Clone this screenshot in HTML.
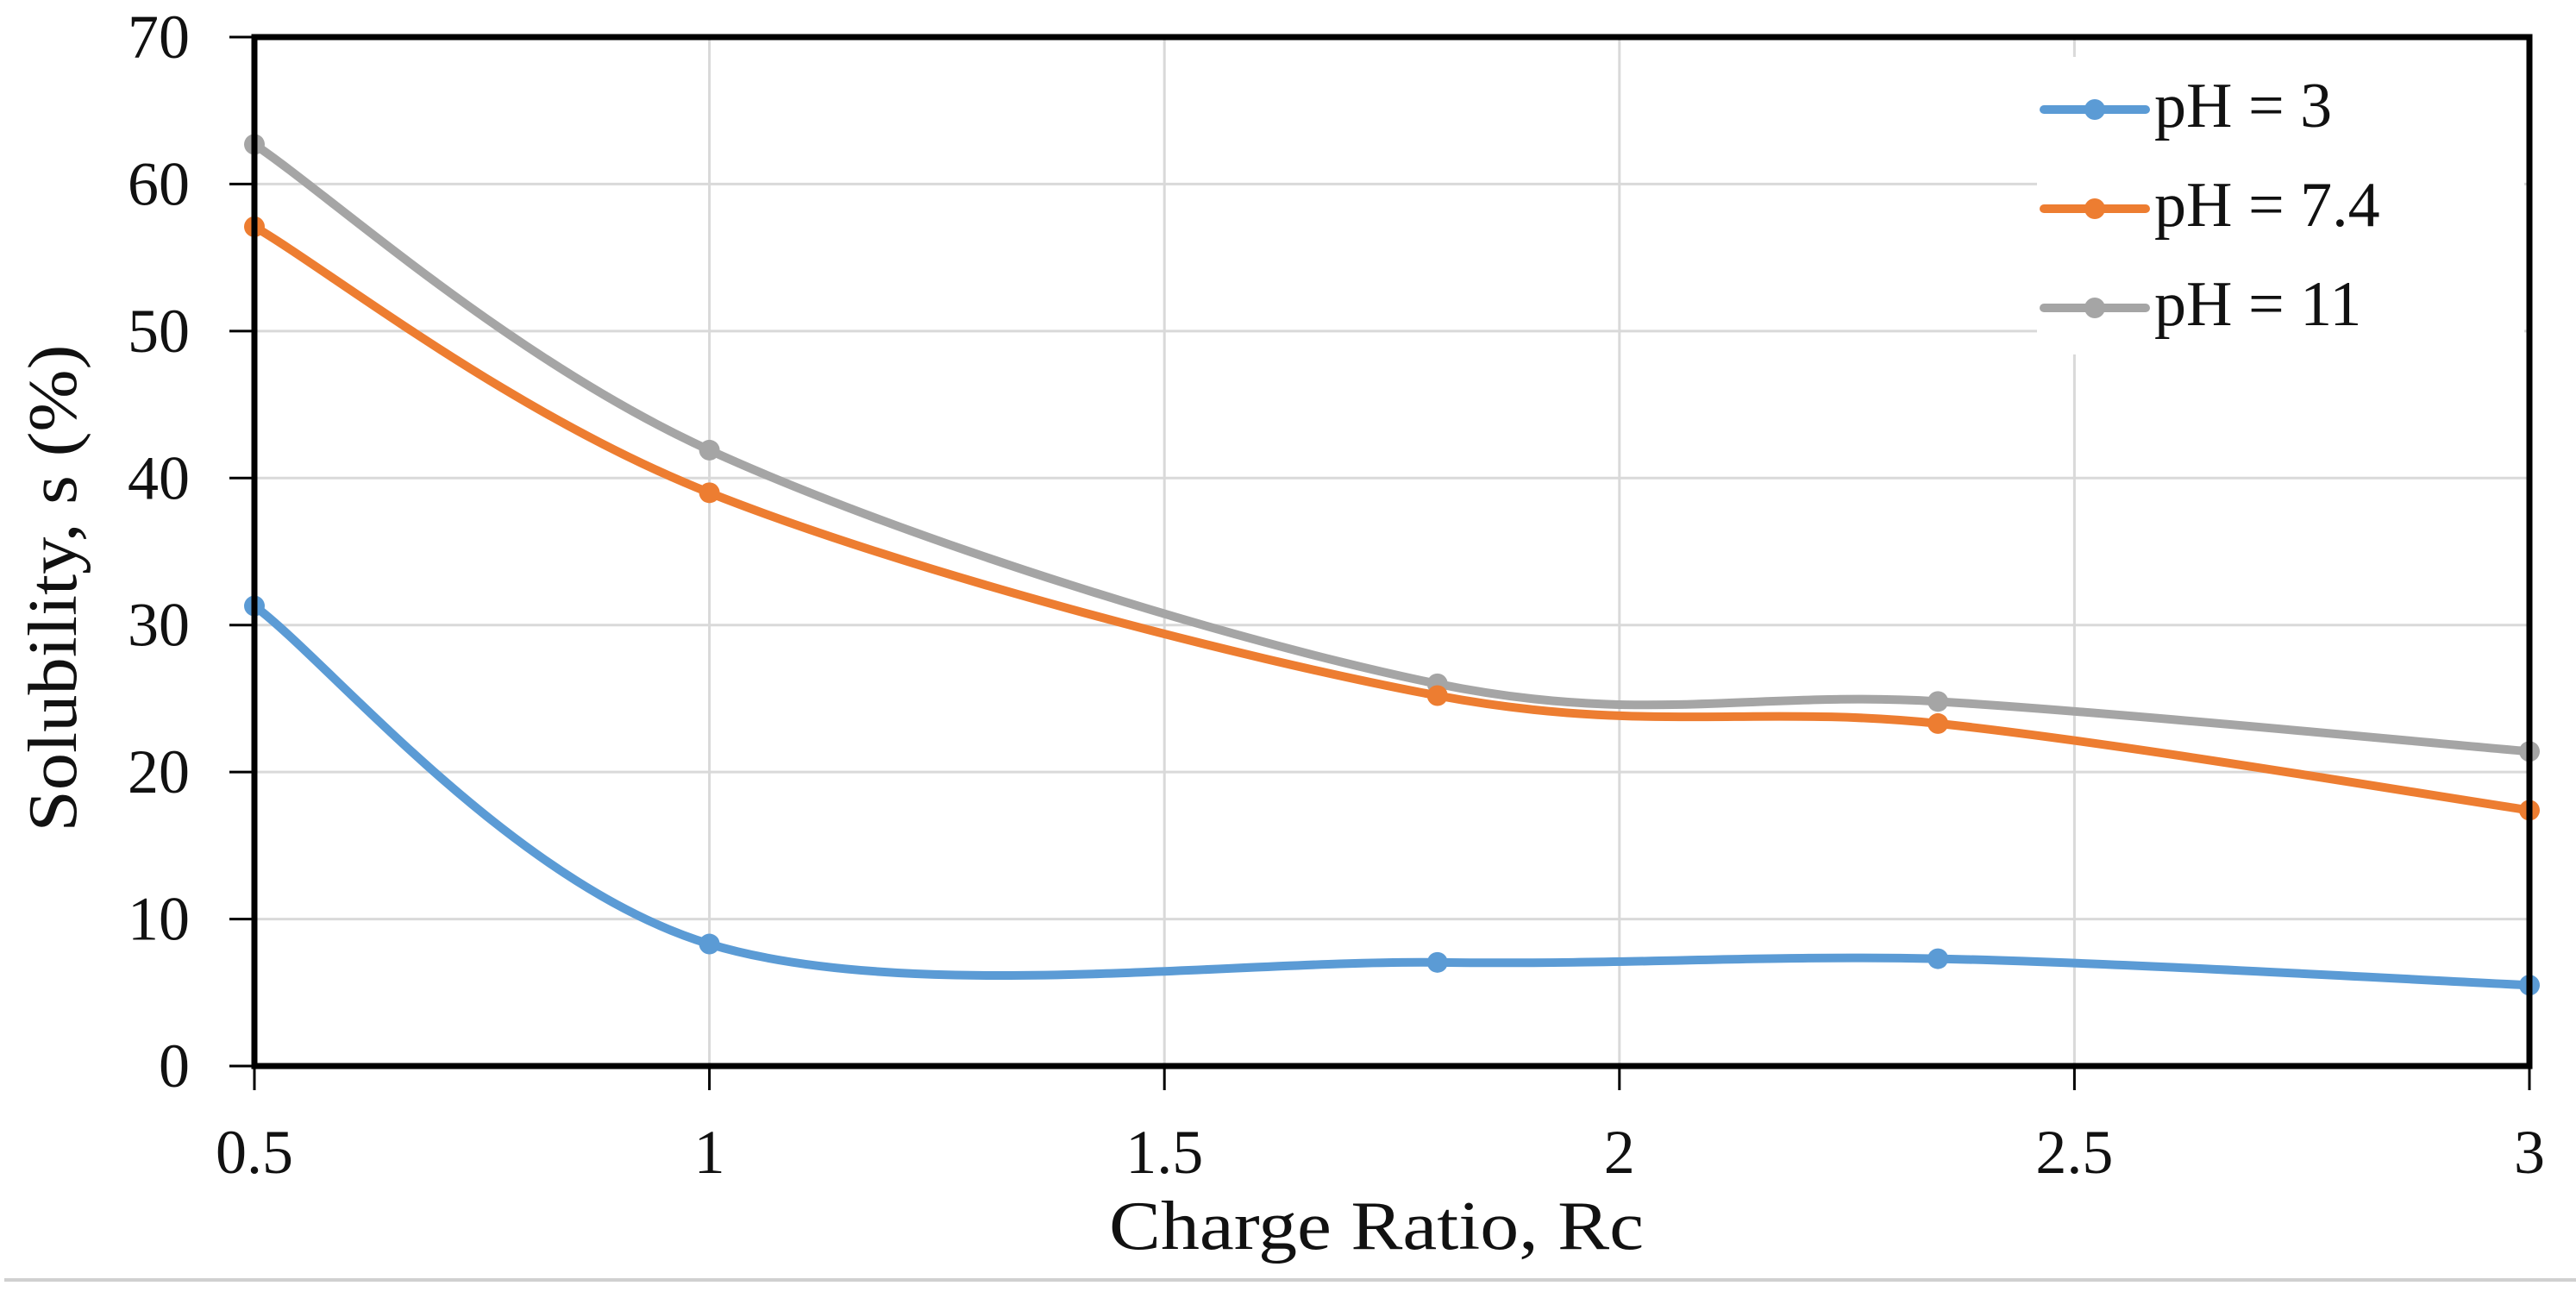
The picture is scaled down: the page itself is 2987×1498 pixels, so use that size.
<!DOCTYPE html>
<html><head><meta charset="utf-8"><style>
html,body{margin:0;padding:0;background:#fff;}
svg{display:block;font-family:"Liberation Serif",serif;}
</style></head><body>
<svg id="chart" width="2987" height="1498" viewBox="0 0 2987 1498" xmlns="http://www.w3.org/2000/svg">
<rect x="0" y="0" width="2987" height="1498" fill="#fff"/>
<g id="grid"></g>
<rect x="2362" y="66" width="565" height="345" fill="#fff"/>
<g id="series"></g>
<g id="axes"></g>
<g id="legend"></g>
<text x="1596" y="1448" font-size="80" text-anchor="middle" textLength="620" lengthAdjust="spacingAndGlyphs" fill="#111">Charge Ratio, Rc</text>
<text transform="translate(88,682) rotate(-90)" font-size="80" text-anchor="middle" textLength="565" lengthAdjust="spacingAndGlyphs" fill="#111">Solubility, s (%)</text>
<line x1="5" y1="1484" x2="2987" y2="1484" stroke="#d0d0d0" stroke-width="4"/>
</svg>
<script>
const xCategories = [0.5, 1, 1.8, 2.35, 3];
const seriesNames = ["pH = 3", "pH = 7.4", "pH = 11"];
const ph3Values = [31.3, 8.3, 7.05, 7.3, 5.5];
const ph74Values = [57.1, 39.0, 25.2, 23.3, 17.4];
const ph11Values = [62.7, 41.9, 26.0, 24.8, 21.4];
const xTicks = [0.5, 1, 1.5, 2, 2.5, 3];
const xTickLabels = ["0.5", "1", "1.5", "2", "2.5", "3"];
const yTicks = [0, 10, 20, 30, 40, 50, 60, 70];
const yTickLabels = ["0", "10", "20", "30", "40", "50", "60", "70"];

const NS = "http://www.w3.org/2000/svg";
const X0 = 295, X1 = 2933, Y0 = 1236, Y1 = 43;
const xScale = v => X0 + (v - 0.5) / 2.5 * (X1 - X0);
const yScale = v => Y0 - v / 70 * (Y0 - Y1);
function mk(tag, attrs, parent) { const e = document.createElementNS(NS, tag); for (const k in attrs) e.setAttribute(k, attrs[k]); parent.appendChild(e); return e; }

const grid = document.getElementById('grid');
yTicks.forEach((t, i) => { if (t === 0 || t === 70) return;
  const l = mk('line', {x1: X0, x2: X1, y1: yScale(t), y2: yScale(t), stroke: '#d9d9d9', 'stroke-width': 3}, grid);
  
  
});
xTicks.forEach(t => { if (t === 0.5 || t === 3) return;
  const l = mk('line', {x1: xScale(t), x2: xScale(t), y1: Y1, y2: Y0, stroke: '#d9d9d9', 'stroke-width': 3}, grid);
  
  
});

const axes = document.getElementById('axes');
const box = mk('rect', {x: X0, y: Y1, width: X1 - X0, height: Y0 - Y1, fill: 'none', stroke: '#000', 'stroke-width': 7}, axes);


yTicks.forEach((t, i) => {
  const tk = mk('line', {x1: X0 - 29, x2: X0, y1: yScale(t), y2: yScale(t), stroke: '#000', 'stroke-width': 3}, axes);
  
  
  const tx = mk('text', {x: 220, y: yScale(t) + 24, 'font-size': 72, 'text-anchor': 'end', fill: '#111'}, axes);
  tx.textContent = yTickLabels[i];
  
  
});
xTicks.forEach((t, i) => {
  const tk = mk('line', {x1: xScale(t), x2: xScale(t), y1: Y0, y2: Y0 + 28, stroke: '#000', 'stroke-width': 3}, axes);
  
  
  const tx = mk('text', {x: xScale(t), y: 1360, 'font-size': 72, 'text-anchor': 'middle', fill: '#111'}, axes);
  tx.textContent = xTickLabels[i];
  
  
});

function smoothPath(pts) {
  let d = 'M' + pts[0][0] + ',' + pts[0][1];
  for (let i = 0; i < pts.length - 1; i++) {
    const p0 = pts[Math.max(0, i - 1)], p1 = pts[i], p2 = pts[i + 1], p3 = pts[Math.min(pts.length - 1, i + 2)];
    const c1 = [p1[0] + (p2[0] - p0[0]) / 6, p1[1] + (p2[1] - p0[1]) / 6];
    const c2 = [p2[0] - (p3[0] - p1[0]) / 6, p2[1] - (p3[1] - p1[1]) / 6];
    d += ' C' + c1 + ' ' + c2 + ' ' + p2;
  }
  return d;
}
const seriesGroup = document.getElementById('series');
const allSeries = [ph3Values, ph74Values, ph11Values];
const colors = ['#5b9bd5', '#ed7d31', '#a5a5a5'];
const ids = ['ph3', 'ph7-4', 'ph11'];
[2, 1, 0].forEach(s => {
  const pts = xCategories.map((x, i) => [xScale(x), yScale(allSeries[s][i])]);
  const p = mk('path', {d: smoothPath(pts), fill: 'none', stroke: colors[s], 'stroke-width': 10, 'stroke-linecap': 'round'}, seriesGroup);
  
  
  pts.forEach(pt => {
    const c = mk('circle', {cx: pt[0], cy: pt[1], r: 12, fill: colors[s]}, seriesGroup);
    
    
  });
});

const legend = document.getElementById('legend');
const legendY = [127, 242, 357];
seriesNames.forEach((n, s) => {
  const l = mk('line', {x1: 2370, x2: 2488, y1: legendY[s], y2: legendY[s], stroke: colors[s], 'stroke-width': 10, 'stroke-linecap': 'round'}, legend);
  
  
  const c = mk('circle', {cx: 2429, cy: legendY[s], r: 12, fill: colors[s]}, legend);
  
  
  const t = mk('text', {x: 2498, y: legendY[s] + 20, 'font-size': 74, fill: '#111'}, legend);
  t.textContent = n;
  
  
});
</script>
</body></html>
